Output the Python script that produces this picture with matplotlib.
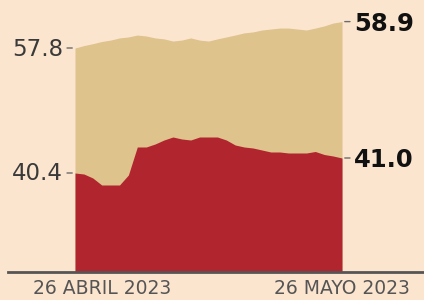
import matplotlib
matplotlib.use("Agg")
import matplotlib.pyplot as plt
import pandas as pd
from matplotlib.lines import Line2D

# ---- data ----
dates = pd.date_range("2023-04-26", "2023-05-26", freq="D")
upper_series = [57.80, 57.90, 57.98, 58.07, 58.13, 58.22, 58.26, 58.34, 58.30, 58.22,
                58.18, 58.09, 58.13, 58.22, 58.13, 58.09, 58.18, 58.26, 58.34, 58.43,
                58.47, 58.55, 58.59, 58.63, 58.63, 58.59, 58.55, 58.63, 58.72, 58.84,
                58.90]
lower_series = [40.40, 40.36, 40.20, 39.92, 39.92, 39.92, 40.32, 41.44, 41.44, 41.56,
                41.72, 41.84, 41.76, 41.72, 41.84, 41.84, 41.84, 41.72, 41.52, 41.44,
                41.40, 41.32, 41.24, 41.24, 41.20, 41.20, 41.20, 41.26, 41.14, 41.08,
                41.00]
x_labels = ["26 ABRIL 2023", "26 MAYO 2023"]

BG = "#FCE5CF"
TAN = "#DEC38D"
RED = "#B0252E"
TXT = "#3a3a3a"

W, H = 424, 300
fig = plt.figure(figsize=(W / 100, H / 100), dpi=100, facecolor=BG)

left, right, base = 75, 342, 271
pos = [left / W, (H - base) / H, (right - left) / W, base / H]

ax1 = fig.add_axes(pos)
ax1.set_facecolor("none")
ax2 = fig.add_axes(pos, sharex=ax1)
ax2.set_facecolor("none")

ylim1 = (57.8 - (base - 48) / 24, 57.8 + 48 / 24)
ylim2 = (40.4 - (base - 173) / 25, 40.4 + 173 / 25)

ax1.fill_between(dates, upper_series, ylim1[0] - 1, color=TAN, lw=0)
ax2.fill_between(dates, lower_series, ylim2[0] - 1, color=RED, lw=0)

ax1.set_ylim(*ylim1)
ax2.set_ylim(*ylim2)
ax1.set_xlim(dates[0], dates[-1])

for ax in (ax1, ax2):
    ax.axis("off")

def tag(ax, x, v, text, side, bold):
    sgn = -1 if side == "left" else 1
    ax.annotate("", xy=(x, v), xycoords="data",
                xytext=(sgn * 8, 0), textcoords="offset pixels",
                arrowprops=dict(arrowstyle="-", color="#6b6b6b", lw=1,
                                shrinkA=0, shrinkB=2))
    ax.annotate(text, xy=(x, v), xycoords="data",
                xytext=(sgn * 12, -2 if bold else -1), textcoords="offset pixels",
                ha="right" if side == "left" else "left", va="center",
                fontsize=16.5 if not bold else 17.5,
                fontweight="bold" if bold else "normal",
                family="DejaVu Sans", color=TXT if not bold else "#111111",
                annotation_clip=False)

tag(ax1, dates[0], upper_series[0], f"{upper_series[0]:.1f}", "left", False)
tag(ax1, dates[-1], upper_series[-1], f"{upper_series[-1]:.1f}", "right", True)
tag(ax2, dates[0], lower_series[0], f"{lower_series[0]:.1f}", "left", False)
tag(ax2, dates[-1], lower_series[-1], f"{lower_series[-1]:.1f}", "right", True)

# baseline
fig.add_artist(Line2D([8 / W, 1.0], [(H - 272) / H] * 2, color="#555555", lw=2))

fig.text(33 / W, (H - 288) / H, x_labels[0], ha="left", va="center",
         fontsize=13.5, color="#555555", family="DejaVu Sans")
fig.text(274 / W, (H - 288) / H, x_labels[1], ha="left", va="center",
         fontsize=13.5, color="#555555", family="DejaVu Sans")

fig.savefig("out.png", dpi=100, facecolor=BG)
